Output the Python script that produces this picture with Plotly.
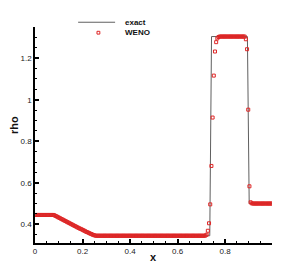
import numpy as np
import plotly.graph_objects as go

# Exact solution
x_exact = [0.0, 0.078, 0.1218, 0.1655, 0.2093, 0.253, 0.7356, 0.743, 0.894, 0.9015, 0.9975]
rho_exact = [0.445, 0.445, 0.4181, 0.3925, 0.368, 0.345, 0.345, 1.304, 1.304, 0.5, 0.5]

# WENO numerical solution, 200 cells
x_weno = np.round(np.arange(200) * 0.005 + 0.0025, 4)
rho_left = [0.445] * 16
rho_rare = [0.443, 0.440, 0.437, 0.434, 0.431, 0.428, 0.425, 0.422, 0.419, 0.416,
            0.413, 0.410, 0.407, 0.404, 0.401, 0.398, 0.395, 0.392, 0.389, 0.386,
            0.383, 0.380, 0.378, 0.375, 0.372, 0.369, 0.366, 0.363, 0.361, 0.358,
            0.355, 0.353, 0.350, 0.348, 0.346]
rho_mid = [0.345] * 92
rho_contact = [0.346, 0.350, 0.369, 0.405, 0.496, 0.681, 0.914, 1.116, 1.232, 1.277, 1.295, 1.302]
rho_star = [1.304] * 22
rho_shock = [1.291, 1.243, 0.952, 0.583, 0.506, 0.501]
rho_right = [0.5] * 17
rho_weno = rho_left + rho_rare + rho_mid + rho_contact + rho_star + rho_shock + rho_right

RED = "rgb(222,38,38)"
FONT = "Liberation Sans, Arial, Helvetica, sans-serif"

fig = go.Figure()
fig.add_trace(go.Scatter(x=x_exact, y=rho_exact, mode="lines",
                         line=dict(color="rgb(95,95,95)", width=1),
                         showlegend=False, hoverinfo="skip"))
fig.add_trace(go.Scatter(x=x_weno, y=rho_weno, mode="markers",
                         marker=dict(symbol="square-open", size=3, color=RED,
                                     line=dict(color=RED, width=1)),
                         showlegend=False, hoverinfo="skip"))

axis_common = dict(showline=True, linecolor="black", linewidth=1.5,
                   ticks="inside", ticklen=4, tickwidth=1.5, tickcolor="black",
                   showgrid=False, zeroline=False, automargin=False,
                   tickfont=dict(family=FONT, size=8, color="#222"),
                   minor=dict(ticks="inside", ticklen=2, tickwidth=1, tickcolor="black", dtick=0.05))

fig.update_xaxes(range=[0, 0.9975], tick0=0, dtick=0.2, **axis_common)
fig.update_yaxes(range=[0.31, 1.35], tick0=0, dtick=0.2, **axis_common)

# legend drawn manually
fig.add_shape(type="line", xref="paper", yref="paper", x0=0.182, x1=0.338, y0=1.022, y1=1.022,
              line=dict(color="rgb(95,95,95)", width=1))
fig.add_shape(type="rect", xref="paper", yref="paper", x0=0.2676 - 0.006, x1=0.2676 + 0.006,
              y0=0.9736 - 0.0065, y1=0.9736 + 0.0065, line=dict(color=RED, width=1))
fig.add_annotation(text="<b>exact</b>", xref="paper", yref="paper", x=0.371, y=1.022,
                   xanchor="left", yanchor="middle", showarrow=False,
                   font=dict(family=FONT, size=8, color="#111"))
fig.add_annotation(text="<b>WENO</b>", xref="paper", yref="paper", x=0.371, y=0.974,
                   xanchor="left", yanchor="middle", showarrow=False,
                   font=dict(family=FONT, size=8, color="#111"))

# axis titles
fig.add_annotation(text="<b>x</b>", xref="paper", yref="paper", x=0.498, y=-0.065,
                   xanchor="center", yanchor="middle", showarrow=False,
                   font=dict(family=FONT, size=11, color="#111"))
fig.add_annotation(text="<b>rho</b>", xref="paper", yref="paper", x=-0.089, y=0.546,
                   xanchor="center", yanchor="middle", showarrow=False, textangle=-90,
                   font=dict(family=FONT, size=11, color="#111"))

fig.update_layout(width=295, height=260, margin=dict(l=27, r=31, t=19, b=25),
                  paper_bgcolor="white", plot_bgcolor="white", showlegend=False)

fig.write_html("out.html")
